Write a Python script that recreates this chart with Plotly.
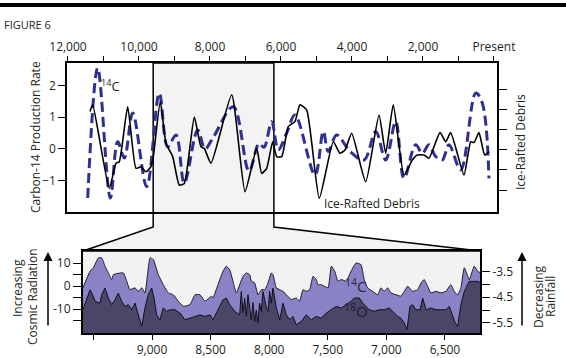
import plotly.graph_objects as go

W, H = 566, 358
FONT = "Open Sans"
INK = "#231f20"

# ---------------- Top panel data (years before present) ----------------
C14_YEARS = [11445, 11163, 10808, 10600, 10414, 10177, 9783, 9428, 9192, 8958,
             8724, 8346, 8141, 7915, 7344, 6901, 6620, 6479, 6262, 6076,
             5840, 5606, 5042, 4808, 4668, 4431, 4056, 3662, 3332, 3051,
             2769, 2535, 2206, 2020, 1831, 1642, 1456, 1268, 938, 515,
             330, 141]
C14_VALUES = [-1.55, 2.55, -1.55, 0.23, -0.29, 1.13, -1.19, 1.76, 0.07, 0.44,
              -1.08, 0.60, 0.00, 0.35, 1.33, -0.70, 0.17, 0.05, 0.86, -0.03,
              0.50, 1.07, -0.82, 0.55, -0.08, 0.44, -0.08, -0.35, 0.55, -0.35,
              0.86, -0.93, 0.13, -0.14, 0.13, -0.24, -0.35, 0.13, -0.66, 1.76,
              1.45, -0.93]

IRD_YEARS = [11380, 11304, 10837, 10648, 10555, 10318, 10085, 9944, 9803, 9662,
             9597, 9400, 9239, 9051, 8865, 8724, 8442, 8254, 8161, 7972,
             7389, 7014, 6685, 6544, 6403, 6234, 6121, 5980, 5794, 5606,
             5465, 5276, 4921, 4527, 4338, 4197, 4008, 3614, 3239, 3051,
             2837, 2535, 2301, 2161, 1972, 1831, 1521, 1361, 1220, 845,
             656, 563, 423, 262, 141]
IRD_VALUES = [3.90, 4.23, 0.08, 1.33, 1.41, 4.14, 1.08, 1.16, 0.91, 1.16,
              1.66, 4.39, 2.32, 1.66, 0.25, 0.33, 3.62, 2.15, 2.07, 1.33,
              4.73, -0.08, 2.07, 0.83, 1.08, 2.40, 1.66, 1.66, 3.15, 3.40,
              4.23, 3.98, -0.41, 2.40, 1.83, 1.99, 2.82, 0.41, 3.73, 1.83,
              4.23, 0.75, 1.49, 1.74, 1.74, 1.58, 2.85, 2.40, 2.85, 0.75,
              2.40, 2.36, 2.85, 1.74, 1.91]

TOP_TICK_YEARS = list(range(0, 12001, 1000))
TOP_TICK_TEXT = ["Present", "", "2,000", "", "4,000", "", "6,000", "",
                 "8,000", "", "10,000", "", "12,000"]
C14_TICKS = [-1, 0, 1, 2]
IRD_TICKS = [0, 1, 2, 3, 4, 5]

# ---------------- Bottom panel data ----------------
LIGHT_YEARS = [9590, 9529, 9501, 9458, 9429, 9401, 9373, 9344, 9330, 9245,
               9216, 9188, 9145, 9117, 9088, 9060, 9017, 8989, 8946, 8904,
               8861, 8818, 8776, 8733, 8676, 8633, 8590, 8548, 8491, 8480,
               8437, 8394, 8366, 8337, 8309, 8281, 8224, 8195, 8166, 8153,
               8124, 8096, 8067, 8038, 8010, 7982, 7968, 7939, 7910, 7882,
               7854, 7811, 7769, 7740, 7712, 7684, 7655, 7626, 7598, 7584,
               7556, 7498, 7470, 7441, 7413, 7385, 7342, 7302, 7259, 7217,
               7189, 7160, 7117, 7074, 7046, 7018, 6989, 6961, 6918, 6876,
               6847, 6818, 6776, 6733, 6705, 6677, 6648, 6620, 6577, 6534,
               6492, 6449, 6421, 6392, 6364, 6335, 6293, 6250, 6221, 6193]
LIGHT_VALUES = [-0.7, 6.5, 8.0, 12.3, 12.3, 8.7, 5.8, 2.9, 5.0, 5.8,
                2.2, -1.5, -0.7, -2.2, -0.7, -2.9, 12.3, 11.6, 5.0, 0.7,
                -2.9, -3.7, -6.5, -8.7, -8.0, -3.7, -3.7, -6.5, -4.3, -5.1,
                0.7, 6.5, 8.7, 7.2, 2.2, -2.9, 4.3, 5.8, 5.0, 2.2,
                1.4, -3.7, -1.5, -1.5, 1.4, 5.8, 5.0, -0.7, -1.5, -2.2,
                -3.7, -5.8, -5.1, -6.5, -1.5, -2.2, -1.5, 4.3, 2.9, 0.7,
                0.7, -0.7, 8.7, 6.5, 2.2, 2.9, 2.2, 6.5, 10.1, 9.4,
                2.9, -0.7, -2.2, -3.7, -0.7, -2.2, -0.7, -2.9, -3.7, -4.3,
                -2.2, 0.0, -2.2, -1.5, 1.4, 2.9, 0.0, -2.9, -2.2, -2.9,
                -2.2, 0.7, -2.2, -3.7, -0.7, 8.0, 2.9, 8.7, 6.5, 5.8]

DARK_YEARS = [9590, 9529, 9501, 9486, 9444, 9429, 9401, 9373, 9344, 9316,
              9288, 9259, 9230, 9202, 9173, 9145, 9117, 9088, 9060, 9032,
              9003, 8983, 8960, 8932, 8904, 8875, 8846, 8804, 8761, 8718,
              8676, 8633, 8590, 8548, 8505, 8480, 8437, 8394, 8366, 8337,
              8294, 8252, 8238, 8224, 8209, 8195, 8181, 8166, 8153, 8138,
              8124, 8110, 8096, 8082, 8067, 8053, 8038, 8024, 8010, 7996,
              7982, 7968, 7939, 7910, 7882, 7854, 7825, 7797, 7769, 7726,
              7684, 7641, 7598, 7556, 7513, 7470, 7428, 7385, 7342, 7302,
              7274, 7231, 7202, 7146, 7103, 7061, 7018, 6975, 6904, 6876,
              6847, 6824, 6799, 6776, 6748, 6713, 6690, 6662, 6620, 6577,
              6534, 6492, 6463, 6434, 6412, 6392, 6364, 6335, 6293, 6250,
              6221, 6193]
DARK_VALUES = [-4.99, -4.21, -4.46, -4.66, -4.73, -4.40, -4.14, -4.53, -4.79, -4.60,
               -4.34, -4.66, -4.86, -4.79, -4.99, -4.73, -5.19, -5.64, -4.92, -4.40,
               -4.14, -4.53, -5.19, -5.38, -4.92, -5.05, -4.99, -4.99, -5.12, -5.38,
               -5.32, -5.25, -5.19, -5.25, -5.19, -5.38, -4.99, -4.60, -4.53, -4.79,
               -5.05, -5.19, -4.27, -5.10, -4.55, -5.25, -4.40, -4.90, -5.38, -4.70,
               -5.45, -5.00, -5.51, -4.73, -5.05, -4.27, -4.60, -4.92, -5.05, -4.27,
               -4.73, -4.14, -4.92, -5.38, -4.73, -5.19, -5.38, -5.25, -5.58, -5.45,
               -5.19, -5.38, -5.25, -5.32, -5.12, -4.99, -4.86, -4.92, -4.79, -4.66,
               -4.53, -4.53, -4.73, -4.99, -5.05, -4.99, -4.99, -4.92, -5.25, -5.32,
               -5.51, -5.77, -4.86, -4.79, -4.99, -4.99, -4.53, -4.99, -4.92, -4.99,
               -4.99, -4.99, -4.86, -5.19, -5.51, -5.64, -4.79, -4.27, -3.88, -3.88,
               -3.88, -3.94]

BOT_TICK_YEARS = [9500, 9000, 8500, 8000, 7500, 7000, 6500]
BOT_TICK_TEXT = ["", "9,000", "8,500", "8,000", "7,500", "7,000", "6,500"]
CR_TICKS = [-15, -10, -5, 0, 5, 10]
CR_TEXT = ["", "-10", "", "0", "", "10"]
O18_TICKS = [-5.5, -5.0, -4.5, -4.0, -3.5]
O18_TEXT = ["-5.5", "", "-4.5", "", "-3.5"]

ZOOM_START, ZOOM_END = 9600, 6200

# ---------------- Layout geometry ----------------
TOP_X_RANGE = [12028, -85]
TOP_Y_RANGE = [-1.99, 2.71]
IRD_RANGE = [-1.09, 6.31]
BOT_X_RANGE = [9589, 6201]
CR_RANGE = [-20.3, 15.3]
O18_RANGE = [-5.90, -2.69]

TOP_XD = [67 / W, 497 / W]
TOP_YD = [1 - 212 / H, 1 - 63 / H]
BOT_XD = [83 / W, 480 / W]
BOT_YD = [1 - 333 / H, 1 - 251 / H]
FILL_BASE_CR = -30
FILL_BASE_O18 = -7


def top_paper_x(year):
    f = (TOP_X_RANGE[0] - year) / (TOP_X_RANGE[0] - TOP_X_RANGE[1])
    return TOP_XD[0] + f * (TOP_XD[1] - TOP_XD[0])


def px(x):
    return x / W


def py(y):
    return 1 - y / H


fig = go.Figure()

# top panel
fig.add_trace(go.Scatter(x=C14_YEARS, y=C14_VALUES, xaxis="x", yaxis="y",
                         mode="lines", line=dict(color="#2e3192", width=3, dash="10px,5px",
                                                 shape="spline", smoothing=1.0),
                         showlegend=False, hoverinfo="skip"))
fig.add_trace(go.Scatter(x=IRD_YEARS, y=IRD_VALUES, xaxis="x", yaxis="y2",
                         mode="lines", line=dict(color="black", width=1.6,
                                                 shape="spline", smoothing=0.5),
                         showlegend=False, hoverinfo="skip"))

# bottom panel
fig.add_trace(go.Scatter(x=[BOT_X_RANGE[0] + 20, BOT_X_RANGE[1] - 20], y=[FILL_BASE_CR] * 2,
                         xaxis="x2", yaxis="y3", mode="lines", line=dict(width=0),
                         showlegend=False, hoverinfo="skip"))
fig.add_trace(go.Scatter(x=LIGHT_YEARS, y=LIGHT_VALUES, xaxis="x2", yaxis="y3",
                         mode="lines", fill="tonexty", fillcolor="#8982c4",
                         line=dict(color="#1e1b2e", width=1, shape="spline", smoothing=0.4),
                         showlegend=False, hoverinfo="skip"))
fig.add_trace(go.Scatter(x=[BOT_X_RANGE[0] + 20, BOT_X_RANGE[1] - 20], y=[FILL_BASE_O18] * 2,
                         xaxis="x2", yaxis="y4", mode="lines", line=dict(width=0),
                         showlegend=False, hoverinfo="skip"))
fig.add_trace(go.Scatter(x=DARK_YEARS, y=DARK_VALUES, xaxis="x2", yaxis="y4",
                         mode="lines", fill="tonexty", fillcolor="#4a4668",
                         line=dict(color="#111018", width=1),
                         showlegend=False, hoverinfo="skip"))

tickfont = dict(family=FONT, size=12, color=INK)
axis_common = dict(showgrid=False, zeroline=False, linecolor="black", tickcolor="black",
                   tickfont=tickfont, fixedrange=True, automargin=False)

xa = top_paper_x(ZOOM_START)
xb = top_paper_x(ZOOM_END)
ymid = py(227)
path = (f"M {xa},{TOP_YD[1]} L {xa},{ymid} L {BOT_XD[0]},{BOT_YD[1]} "
        f"L {BOT_XD[1]},{BOT_YD[1]} L {xb},{ymid} L {xb},{TOP_YD[1]} Z")

shapes = [
    dict(type="rect", xref="paper", yref="paper", x0=0, x1=1, y0=py(7), y1=py(3),
         fillcolor="black", line=dict(width=0)),
    dict(type="rect", xref="paper", yref="paper", x0=BOT_XD[0], x1=BOT_XD[1],
         y0=BOT_YD[0], y1=BOT_YD[1], fillcolor="#f2f2f2", line=dict(width=0), layer="below"),
    dict(type="path", xref="paper", yref="paper", path=path, fillcolor="#f3f3f3",
         line=dict(color="black", width=1.5), layer="below"),
]

annots = [
    dict(text="FIGURE 6", x=px(2), y=py(24), xanchor="left", yanchor="middle",
         font=dict(family=FONT, size=11, color=INK)),
    dict(text="Carbon-14 Production Rate", x=px(35), y=py(137), textangle=-90,
         font=dict(family=FONT, size=12, color=INK)),
    dict(text="Ice-Rafted Debris", x=px(520), y=py(142), textangle=-90,
         font=dict(family=FONT, size=12, color=INK)),
    dict(text="<sup>14</sup>C", x=px(110), y=py(85),
         font=dict(family=FONT, size=13, color=INK)),
    dict(text="Ice-Rafted Debris", x=px(372), y=py(203),
         font=dict(family=FONT, size=12, color=INK)),
    dict(text="<sup>14</sup>C", x=px(355), y=py(285),
         font=dict(family=FONT, size=15, color="#2a2840")),
    dict(text="<sup>18</sup>O", x=px(356), y=py(310),
         font=dict(family=FONT, size=15, color="#1e1c2c")),
    dict(text="Increasing", x=px(17), y=py(288), textangle=-90,
         font=dict(family=FONT, size=12, color=INK)),
    dict(text="Cosmic Radiation", x=px(32), y=py(297), textangle=-90,
         font=dict(family=FONT, size=12, color=INK)),
    dict(text="Decreasing", x=px(538), y=py(297), textangle=-90,
         font=dict(family=FONT, size=12, color=INK)),
    dict(text="Rainfall", x=px(550), y=py(297), textangle=-90,
         font=dict(family=FONT, size=12, color=INK)),
    dict(text="", x=px(48), y=py(252), ax=0, ay=75, showarrow=True, arrowhead=2,
         arrowsize=1.2, arrowwidth=1.5, arrowcolor="black"),
    dict(text="", x=px(522), y=py(252), ax=0, ay=75, showarrow=True, arrowhead=2,
         arrowsize=1.2, arrowwidth=1.5, arrowcolor="black"),
]
for a in annots:
    a.setdefault("xref", "paper")
    a.setdefault("yref", "paper")
    a.setdefault("showarrow", False)
    a.setdefault("xanchor", "center")
    a.setdefault("yanchor", "middle")

fig.update_layout(
    width=W, height=H, margin=dict(l=0, r=0, t=0, b=0, autoexpand=False),
    paper_bgcolor="white", plot_bgcolor="rgba(0,0,0,0)",
    showlegend=False,
    xaxis=dict(domain=TOP_XD, range=TOP_X_RANGE, anchor="y", side="top",
               tickvals=TOP_TICK_YEARS, ticktext=TOP_TICK_TEXT, ticks="outside",
               ticklen=5, tickwidth=1.2, showline=True, mirror=True, linewidth=1.5,
               **axis_common),
    yaxis=dict(domain=TOP_YD, range=TOP_Y_RANGE, anchor="x", tickvals=C14_TICKS,
               ticks="outside", ticklen=7, tickwidth=1.2, showline=True, mirror=True,
               linewidth=1.5, **axis_common),
    yaxis2=dict(range=IRD_RANGE, overlaying="y", side="right", anchor="x",
                tickvals=IRD_TICKS, showticklabels=False, ticks="outside", ticklen=9,
                tickwidth=1.2, showline=False, **axis_common),
    xaxis2=dict(domain=BOT_XD, range=BOT_X_RANGE, anchor="y3", tickvals=BOT_TICK_YEARS,
                ticktext=BOT_TICK_TEXT, ticks="outside", ticklen=5, tickwidth=1.2,
                showline=True, mirror=True, linewidth=2, **axis_common),
    yaxis3=dict(domain=BOT_YD, range=CR_RANGE, anchor="x2", tickvals=CR_TICKS,
                ticktext=CR_TEXT, ticks="outside", ticklen=8, tickwidth=1.2,
                showline=True, mirror=True, linewidth=2, **axis_common),
    yaxis4=dict(range=O18_RANGE, overlaying="y3", side="right", anchor="x2",
                tickvals=O18_TICKS, ticktext=O18_TEXT, ticks="outside", ticklen=9,
                tickwidth=1.2, showline=False, **axis_common),
    shapes=shapes,
    annotations=annots,
)

fig.write_html("out.html", config={"displayModeBar": False},
               post_script="document.body.style.margin='0';document.body.style.overflow='hidden';")
